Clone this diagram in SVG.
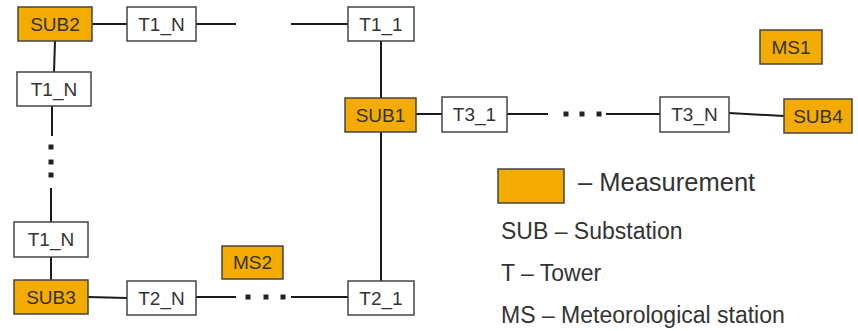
<svg xmlns="http://www.w3.org/2000/svg" width="858" height="331" viewBox="0 0 858 331">
<style>
.box{fill:#ffffff;stroke:#444444;stroke-width:1.5}
.meas{fill:#F4AB00;stroke:#444444;stroke-width:1.5}
.lbl{font-family:"Liberation Sans",Arial,sans-serif;font-size:19px;fill:#333333;text-anchor:middle}
.leg{font-family:"Liberation Sans",Arial,sans-serif;font-size:23px;fill:#333333}
.ln{stroke:#1a1a1a;stroke-width:2;fill:none}
.dot{fill:#222222}
</style>
<rect width="858" height="331" fill="#ffffff"/>
<g id="connectors">
<line class="ln" x1="92" y1="24" x2="127" y2="24"/>
<line class="ln" x1="196" y1="24" x2="236" y2="24"/>
<line class="ln" x1="291" y1="24" x2="348" y2="24"/>
<line class="ln" x1="381" y1="41" x2="381" y2="98"/>
<line class="ln" x1="381" y1="132" x2="381" y2="281"/>
<line class="ln" x1="55" y1="41" x2="54" y2="72"/>
<line class="ln" x1="52" y1="106" x2="52" y2="136"/>
<line class="ln" x1="51" y1="188" x2="51" y2="222"/>
<line class="ln" x1="51" y1="257" x2="51" y2="280"/>
<line class="ln" x1="88" y1="297" x2="127" y2="298"/>
<line class="ln" x1="196" y1="297" x2="236" y2="297"/>
<line class="ln" x1="291" y1="297" x2="348" y2="297"/>
<line class="ln" x1="416" y1="114" x2="442" y2="114"/>
<line class="ln" x1="507" y1="114" x2="548" y2="114"/>
<line class="ln" x1="606" y1="114" x2="660" y2="114"/>
<line class="ln" x1="729" y1="113" x2="784" y2="116"/>
<rect class="dot" x="48.5" y="144.5" width="5" height="5"/>
<rect class="dot" x="48.5" y="159.5" width="5" height="5"/>
<rect class="dot" x="48.5" y="172.5" width="5" height="5"/>
<rect class="dot" x="245.5" y="294.5" width="5" height="5"/>
<rect class="dot" x="263.5" y="294.5" width="5" height="5"/>
<rect class="dot" x="280.5" y="294.5" width="5" height="5"/>
<rect class="dot" x="563.5" y="111.5" width="5" height="5"/>
<rect class="dot" x="579.5" y="111.5" width="5" height="5"/>
<rect class="dot" x="596.5" y="111.5" width="5" height="5"/>
</g>
<g id="SUB2"><rect class="meas" x="18" y="7" width="74" height="34"/><text class="lbl" x="55" y="31">SUB2</text></g>
<g id="T1_N_top"><rect class="box" x="127" y="7" width="69" height="34"/><text class="lbl" x="161.5" y="31">T1_N</text></g>
<g id="T1_1"><rect class="box" x="348" y="7" width="66" height="34"/><text class="lbl" x="381" y="31">T1_1</text></g>
<g id="T1_N_left1"><rect class="box" x="17" y="72" width="74" height="34"/><text class="lbl" x="54" y="96">T1_N</text></g>
<g id="SUB1"><rect class="meas" x="345" y="98" width="71" height="34"/><text class="lbl" x="380.5" y="122">SUB1</text></g>
<g id="T3_1"><rect class="box" x="442" y="97" width="65" height="35"/><text class="lbl" x="474.5" y="121">T3_1</text></g>
<g id="T3_N"><rect class="box" x="660" y="97" width="69" height="35"/><text class="lbl" x="694.5" y="121">T3_N</text></g>
<g id="SUB4"><rect class="meas" x="784" y="99" width="68" height="34"/><text class="lbl" x="818" y="123">SUB4</text></g>
<g id="MS1"><rect class="meas" x="760" y="30" width="62" height="34"/><text class="lbl" x="791" y="54">MS1</text></g>
<g id="T1_N_left2"><rect class="box" x="14" y="222" width="74" height="35"/><text class="lbl" x="51" y="246">T1_N</text></g>
<g id="SUB3"><rect class="meas" x="14" y="280" width="74" height="34"/><text class="lbl" x="51" y="304">SUB3</text></g>
<g id="T2_N"><rect class="box" x="127" y="281" width="69" height="34"/><text class="lbl" x="161.5" y="305">T2_N</text></g>
<g id="MS2"><rect class="meas" x="222" y="246" width="61" height="33"/><text class="lbl" x="252.5" y="269">MS2</text></g>
<g id="T2_1"><rect class="box" x="348" y="281" width="66" height="34"/><text class="lbl" x="381" y="305">T2_1</text></g>
<g id="legend">
<rect class="meas" x="498" y="169" width="66" height="34"/>
<text class="leg" x="578" y="191" style="font-size:25.5px">– Measurement</text>
<text class="leg" x="501" y="239">SUB – Substation</text>
<text class="leg" x="501" y="281">T – Tower</text>
<text class="leg" x="501" y="323">MS – Meteorological station</text>
</g>
</svg>
